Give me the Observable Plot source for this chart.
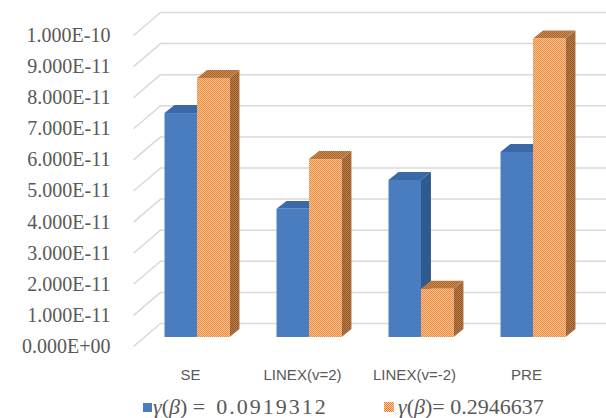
<!DOCTYPE html>
<html>
<head>
<meta charset="utf-8">
<script src="https://cdn.jsdelivr.net/npm/d3@7"></script>
<script src="https://cdn.jsdelivr.net/npm/@observablehq/plot@0.6"></script>
<style>
  html, body { margin: 0; padding: 0; background: #fff; }
  #wrap { position: relative; width: 606px; height: 418px; overflow: hidden; }
  #legend { position: absolute; left: 0; top: 390px; width: 606px; height: 28px;
            font-family: "Liberation Serif", "Times New Roman", serif; font-size: 22px; color: #595959; }
  .item { position: absolute; top: 5px; white-space: pre; display: flex; align-items: center; line-height: 24px; }
  .item i { font-style: italic; }
  .sw { display: inline-block; width: 9px; height: 9px; margin-right: 1px; }
  .wide { letter-spacing: 2px; }
</style>
</head>
<body>
<div id="wrap">
  <div id="chart"></div>
  <div id="legend">
    <div class="item" style="left:143px"><span class="sw" style="background:#4A7DC0"></span><span><i>γ</i>(<i>β</i>) =  <span class="wide">0.0919312</span></span></div>
    <div class="item" style="left:383px"><svg width="12" height="12" style="margin-right:3px"><defs><pattern id="legpat" width="2" height="2" patternUnits="userSpaceOnUse"><rect width="2" height="2" fill="#FBD3AE"/><rect width="1" height="1" fill="#EC7A2C"/><rect x="1" y="1" width="1" height="1" fill="#EC7A2C"/></pattern></defs><rect x="1" y="1" width="10" height="10" fill="url(#legpat)"/></svg><span><i>γ</i>(<i>β</i>)= 0.2946637</span></div>
  </div>
</div>
<script>
// ---- data ----
const categories = ["SE", "LINEX(v=2)", "LINEX(v=-2)", "PRE"];
const series1 = [7.2e-11, 4.12e-11, 5.05e-11, 5.95e-11];   // γ(β) = 0.0919312
const series2 = [8.33e-11, 5.72e-11, 1.55e-11, 9.6e-11];  // γ(β) = 0.2946637
const yTicks = [0, 1e-11, 2e-11, 3e-11, 4e-11, 5e-11, 6e-11, 7e-11, 8e-11, 9e-11, 1e-10];

// ---- layout constants (data units) ----
const barW = 0.29;          // width of a bar in category units
const depthX = 0.089;       // 3D depth offset, x
const depthY = 2.57e-12;    // 3D depth offset, y
const wallFrontX = -0.571, wallBackX = -0.33, wallRightX = 3.75;
const wallDepthY = 7.4e-12;
const serif = '"Liberation Serif", "Times New Roman", serif';

const fmt = v => {
  const [m, e] = d3.format(".3e")(v).split("e");
  const sign = e[0] === "-" ? "-" : "+";
  return m + "E" + sign + e.replace(/^[-+]/, "").padStart(2, "0");
};

const bars = [];
categories.forEach((c, i) => {
  bars.push({key: c + "-1", s: 0, x1: i - barW, x2: i, v: series1[i]});
  bars.push({key: c + "-2", s: 1, x1: i, x2: i + barW, v: series2[i]});
});
const sides = bars.flatMap(b => [
  {key: b.key, s: b.s, x: b.x2, y1: 0, y2: b.v},
  {key: b.key, s: b.s, x: b.x2 + depthX, y1: depthY, y2: b.v + depthY}
]);
const tops = bars.flatMap(b => [
  {key: b.key, s: b.s, y: b.v, x1: b.x1, x2: b.x2},
  {key: b.key, s: b.s, y: b.v + depthY, x1: b.x1 + depthX, x2: b.x2 + depthX}
]);

const frontFill = ["#4A7DC0", "url(#patFront)"];
const sideFill = ["#2F5A8F", "url(#patSide)"];
const topFill = ["#3B68A6", "url(#patTop)"];

const marks = [
  Plot.ruleY(yTicks, {y: d => d, x1: wallBackX, x2: wallRightX, dy: -14, stroke: "#D9D9D9", strokeWidth: 1.5}),
  Plot.link(yTicks, {x1: wallFrontX, y1: d => d, x2: wallBackX, y2: d => d + wallDepthY, dy: 9, stroke: "#D9D9D9", strokeWidth: 1.5}),
  Plot.text(yTicks, {y: d => d, text: d => fmt(d), frameAnchor: "left", textAnchor: "end", dy: 9,
    fontSize: 20, fontFamily: serif, fill: "#595959"}),
  Plot.text(categories, {x: (d, i) => i, y: 0, dy: 38, dx: -7, text: d => d,
    fontSize: 15, fontFamily: "Liberation Sans", fill: "#595959"})
];
bars.forEach(b => {
  marks.push(Plot.area(sides.filter(d => d.key === b.key), {x1: "x", y1: "y1", y2: "y2", fill: sideFill[b.s]}));
  marks.push(Plot.area(tops.filter(d => d.key === b.key), {y1: "y", x1: "x1", x2: "x2", fill: topFill[b.s]}));
  marks.push(Plot.rect([b], {x1: "x1", x2: "x2", y1: 0, y2: "v", fill: frontFill[b.s]}));
});

const chart = Plot.plot({
  width: 606,
  height: 390,
  marginLeft: 110,
  marginTop: 0, marginBottom: 0, marginRight: 0,
  x: {type: "linear", domain: [0, 3], range: [197, 533], axis: null},
  y: {type: "linear", domain: [0, 1e-10], range: [337, 26], axis: null},
  style: {background: "#fff"},
  marks
});

const svg = d3.select(chart);
svg.selectAll("text").filter(function() { return /E[-+]\d\d$/.test(this.textContent); })
  .style("font-family", serif);
const defs = svg.insert("defs", ":first-child");
function pat(id, bg, dot) {
  const p = defs.append("pattern").attr("id", id).attr("width", 2).attr("height", 2).attr("patternUnits", "userSpaceOnUse");
  p.append("rect").attr("width", 2).attr("height", 2).attr("fill", bg);
  p.append("rect").attr("width", 1).attr("height", 1).attr("fill", dot);
  p.append("rect").attr("x", 1).attr("y", 1).attr("width", 1).attr("height", 1).attr("fill", dot);
}
pat("patFront", "#F8C299", "#EE8C3E");
pat("patSide", "#B57A46", "#985A28");
pat("patTop", "#C98A50", "#AD672E");

document.getElementById("chart").appendChild(chart);
</script>
</body>
</html>
